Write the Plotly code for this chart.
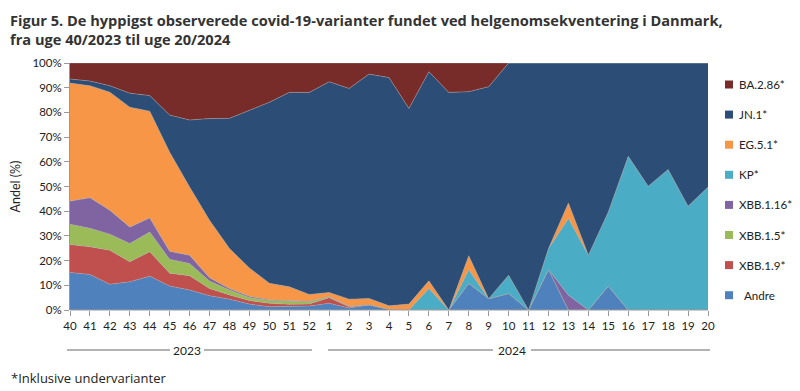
import plotly.graph_objects as go

weeks = ["40","41","42","43","44","45","46","47","48","49","50","51","52",
         "1","2","3","4","5","6","7","8","9","10","11","12","13","14","15","16","17","18","19","20"]

andre   = [15.2,14.4,10.4,11.4,13.7,9.7,8.1,5.8,4.4,2.4,1.3,1.3,1.6,2.7,0.8,2.0,0.3,0,0,0,10.8,4.6,6.7,0,16.4,0,0,9.7,0,0,0,0,0]
xbb19   = [11.3,11.2,13.8,8.1,9.9,5.2,5.8,2.9,1.7,1.4,1.4,1.0,0.8,2.3,0.5,0.1,0,0,0,0,0,0,0,0,0,0,0,0,0,0,0,0,0]
xbb15   = [8.2,7.5,6.5,7.4,8.0,5.6,4.9,3.0,2.0,1.3,1.1,1.2,0.9,0.4,0.2,0,0,0,0,0,0,0,0,0,0,0,0,0,0,0,0,0,0]
xbb116  = [9.4,12.4,9.7,6.7,5.7,3.3,3.4,1.4,0.6,0.5,0.3,0.3,0.2,0.1,0.1,0,0,0,0,0,0,0,0,0,0,6.0,0,0,0,0,0,0,0]
kp      = [0,0,0,0,0,0,0,0,0,0,0,0,0,0,0,0,0,0,8.7,0,5.5,0,7.4,0,8.5,31.0,22.2,30.0,62.2,50.1,56.9,42.0,49.8]
eg51    = [47.8,45.3,47.8,48.5,43.2,40.1,27.6,23.2,16.2,11.4,6.7,5.6,2.8,1.6,2.8,2.6,1.4,2.4,3.1,0,5.7,0,0,0,0,6.3,0,0,0,0,0,0,0]
jn1     = [1.6,1.9,2.6,5.7,6.3,15.0,27.1,41.2,52.7,63.8,73.3,78.7,81.8,85.3,85.3,90.8,92.4,79.2,84.7,88.1,66.4,85.8,85.9,100,75.1,56.7,77.8,60.3,37.8,49.9,43.1,58.0,50.2]
ba286   = [6.5,7.3,9.2,12.2,13.2,21.1,23.1,22.5,22.4,19.2,15.9,11.9,11.9,7.6,10.3,4.5,5.9,18.4,3.5,11.9,11.6,9.6,0,0,0,0,0,0,0,0,0,0,0]

series = [
    ("Andre", andre, "#4F81BD"),
    ("XBB.1.9*", xbb19, "#C0504D"),
    ("XBB.1.5*", xbb15, "#9BBB59"),
    ("XBB.1.16*", xbb116, "#8064A2"),
    ("KP*", kp, "#4BACC6"),
    ("EG.5.1*", eg51, "#F79646"),
    ("JN.1*", jn1, "#2C4D75"),
    ("BA.2.86*", ba286, "#772C2A"),
]

x = list(range(len(weeks)))
fig = go.Figure()
for i, (name, vals, col) in enumerate(series):
    fig.add_trace(go.Scatter(
        x=x, y=vals, name=name, mode="lines",
        stackgroup="one", groupnorm="percent",
        line=dict(width=0.6, color="rgba(170,170,170,0.7)"),
        fillcolor=col, showlegend=False,
        hoverinfo="skip",
    ))

font = "Lato, 'DejaVu Sans', sans-serif"
# page has an 8px body margin, so the figure is 8px smaller and offset
fig.update_layout(
    width=792, height=383,
    margin=dict(l=62, r=92, t=55, b=81, autoexpand=False),
    paper_bgcolor="white", plot_bgcolor="white",
    font=dict(family=font, size=11, color="#222"),
    showlegend=False,
    xaxis=dict(range=[0, 32], tickmode="array", tickvals=x, ticktext=weeks,
               showgrid=False, zeroline=False, showline=False,
               ticks="outside", ticklen=5, tickcolor="#999",
               tickfont=dict(size=11.5), tickangle=0, fixedrange=True),
    yaxis=dict(range=[0, 100], dtick=10, ticksuffix="%", showgrid=False,
               zeroline=False, showline=True, linecolor="#999", linewidth=1,
               ticks="outside", ticklen=5, tickcolor="#999",
               tickfont=dict(size=11.5),
               title=dict(text="Andel (%)", font=dict(size=12.5), standoff=20)),
)

# x axis baseline
fig.add_shape(type="line", xref="paper", yref="paper", x0=0, x1=1, y0=0, y1=0,
              line=dict(color="#999", width=1))

def px(xp):
    return (xp - 70) / 638.0

def py(yp):
    return (310 - yp) / 247.0

# custom legend (top item first)
for k, (name, vals, col) in enumerate(reversed(series)):
    yc = 84.5 + 30.1 * k
    fig.add_shape(type="rect", xref="paper", yref="paper",
                  x0=px(725), x1=px(733), y0=py(yc - 4), y1=py(yc + 4),
                  fillcolor=col, line=dict(width=0))
    fig.add_annotation(xref="paper", yref="paper", x=px(738 if name != "Andre" else 743), y=py(yc),
                       xanchor="left", yanchor="middle", showarrow=False, text=name,
                       borderpad=0, font=dict(size=11.6, color="#222"))

# title
fig.add_annotation(xref="paper", yref="paper", x=px(9), y=py(9), xanchor="left", yanchor="top",
                   align="left", showarrow=False, borderpad=0,
                   text="<b>Figur 5. De hyppigst observerede covid-19-varianter fundet ved helgenomsekventering i Danmark,<br>fra uge 40/2023 til uge 20/2024</b>",
                   font=dict(size=14.6, color="#333", family="'Open Sans', sans-serif"))

for (a, b, ta, tb, label) in [(67, 312, 170, 204, "2023"), (328, 710, 493, 531, "2024")]:
    fig.add_shape(type="line", xref="paper", yref="paper", x0=px(a), x1=px(ta), y0=py(350), y1=py(350),
                  line=dict(color="#666", width=1))
    fig.add_shape(type="line", xref="paper", yref="paper", x0=px(tb), x1=px(b), y0=py(350), y1=py(350),
                  line=dict(color="#666", width=1))
    fig.add_annotation(xref="paper", yref="paper", x=px((ta + tb) / 2), y=py(350),
                       xanchor="center", yanchor="middle", showarrow=False,
                       text=label, font=dict(size=12, color="#222"))

fig.add_annotation(xref="paper", yref="paper", x=px(9), y=py(378), xanchor="left", yanchor="middle",
                   showarrow=False, text="*Inklusive undervarianter",
                   font=dict(size=13, color="#222", family="'Open Sans', sans-serif"))

fig.write_html("out.html")
